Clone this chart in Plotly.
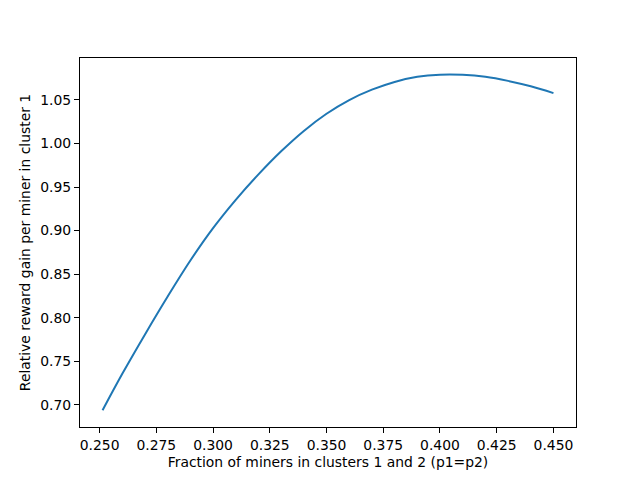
import plotly.graph_objects as go

# fraction of miners in clusters 1 and 2 (p1 = p2)
fraction = [0.2513, 0.26, 0.27, 0.28, 0.29, 0.30, 0.31, 0.32, 0.33, 0.34, 0.35,
            0.36, 0.37, 0.38, 0.39, 0.40, 0.41, 0.42, 0.43, 0.44, 0.45]
# relative reward gain per miner in cluster 1
gain = [0.6939, 0.7357, 0.7809, 0.8244, 0.8657, 0.9028, 0.9353, 0.9645, 0.9910, 1.0144, 1.0341,
        1.0498, 1.0617, 1.0706, 1.0764, 1.0788, 1.0787, 1.0765, 1.0718, 1.0656, 1.0578]

xticks = [0.25, 0.275, 0.30, 0.325, 0.35, 0.375, 0.40, 0.425, 0.45]
yticks = [0.70, 0.75, 0.80, 0.85, 0.90, 0.95, 1.00, 1.05]

fig = go.Figure()
fig.add_trace(go.Scatter(x=fraction, y=gain, mode="lines", line_shape="spline",
                         line=dict(color="#1f77b4", width=2)))

# matplotlib-like 5% padding around the data
xspan = max(fraction) - min(fraction)
yspan = max(gain) - min(gain)

axis_style = dict(showline=True, mirror=True, linecolor="black", linewidth=1,
                  ticks="outside", ticklen=5, tickwidth=1, tickcolor="black",
                  showgrid=False, zeroline=False, automargin=False,
                  tickfont=dict(size=13.9, color="black"))

# the page body adds ~8px, so margins are shifted up/left by that much
fig.update_layout(
    width=640, height=480,
    margin=dict(l=72, r=72, t=50, b=61),
    paper_bgcolor="white", plot_bgcolor="white",
    font=dict(family="DejaVu Sans", size=13.9, color="black"),
    showlegend=False,
    xaxis=dict(range=[min(fraction) - 0.05 * xspan, max(fraction) + 0.05 * xspan],
               tickvals=xticks, tickformat=".3f",
               title=dict(text="Fraction of miners in clusters 1 and 2 (p1=p2)",
                          font=dict(size=13.9), standoff=5),
               **axis_style),
    yaxis=dict(range=[min(gain) - 0.05 * yspan, max(gain) + 0.05 * yspan],
               tickvals=yticks, tickformat=".2f",
               title=dict(text="Relative reward gain per miner in cluster 1",
                          font=dict(size=13.9), standoff=6),
               **axis_style),
)

fig.write_html("out.html")
